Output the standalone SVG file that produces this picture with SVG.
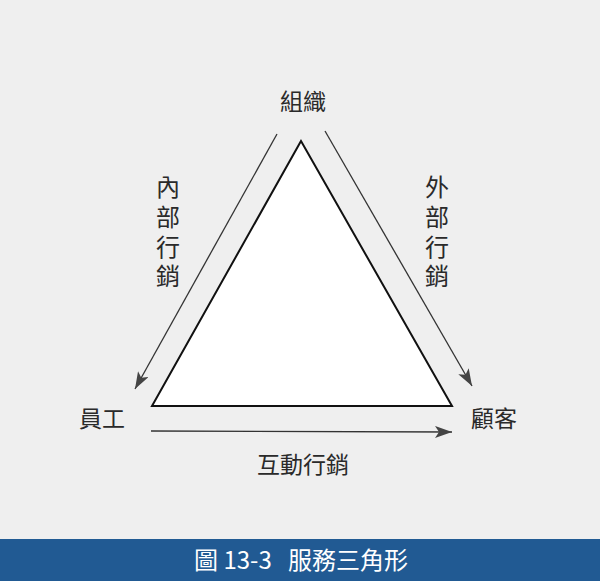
<svg xmlns="http://www.w3.org/2000/svg" width="600" height="581" viewBox="0 0 600 581">
<defs>
<marker id="ah" markerWidth="18" markerHeight="12" refX="17" refY="6" orient="auto" markerUnits="userSpaceOnUse">
<path d="M0,0 L17,6 L0,12 L4,6 Z" fill="#444"/>
</marker>
</defs>
<style>
.lbl{font-family:"Noto Sans CJK TC","Noto Sans CJK SC",sans-serif;font-size:23px;fill:#2a2a2a;text-anchor:middle}
.vl{font-size:24px}
.conn{stroke:#333;stroke-width:1.3;fill:none;marker-end:url(#ah)}
.ban{font-family:"Noto Sans CJK TC","Liberation Sans",sans-serif;font-size:24px;fill:#fff;text-anchor:middle}
</style>
<rect width="600" height="581" fill="#efefef"/>
<g id="triangle">
<polygon points="301,141 152,406 452,406" fill="#fff" stroke="#111" stroke-width="2"/>
</g>
<g id="connectors">
<line class="conn" x1="277" y1="134" x2="135" y2="389"/>
<line class="conn" x1="325" y1="131" x2="472" y2="386"/>
<line class="conn" x1="151" y1="431" x2="452" y2="432"/>
</g>
<g id="org"><text class="lbl" x="303" y="110">組織</text></g>
<g id="staff"><text class="lbl" x="102" y="427">員工</text></g>
<g id="customer"><text class="lbl" x="494" y="427">顧客</text></g>
<g id="interactive"><text class="lbl" x="303" y="473" font-size="24">互動行銷</text></g>
<g id="internal">
<text class="lbl vl" x="168" y="196">內</text>
<text class="lbl vl" x="168" y="226">部</text>
<text class="lbl vl" x="168" y="256">行</text>
<text class="lbl vl" x="168" y="285">銷</text>
</g>
<g id="external">
<text class="lbl vl" x="437" y="196">外</text>
<text class="lbl vl" x="437" y="226">部</text>
<text class="lbl vl" x="437" y="256">行</text>
<text class="lbl vl" x="437" y="285">銷</text>
</g>
<g id="banner">
<rect x="0" y="539" width="600" height="42" fill="#215a93"/>
<text class="ban" x="301" y="569" xml:space="preserve">圖 13-3   服務三角形</text>
</g>
</svg>
